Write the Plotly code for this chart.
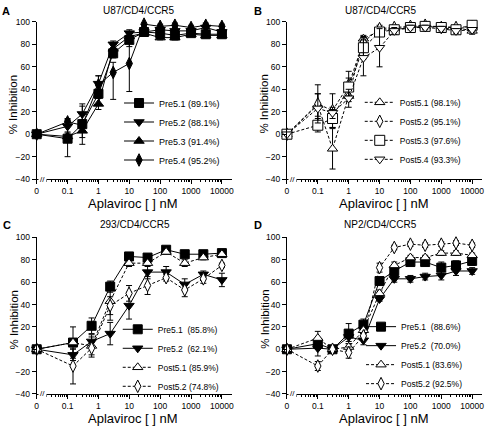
import plotly.graph_objects as go

W, H = 489, 428

# ---------------- data ----------------
DOSE_HALF_LOG = [0, 0.1, 0.3, 1, 3, 10, 30, 100, 300, 1000, 3000, 10000]
DOSE_FOURFOLD = [0, 0.15, 0.6, 2.4, 9.8, 39, 156, 625, 2500, 10000]
ZERO_POS = 0.01  # where the "0" dose is drawn on the broken log axis

# Panel A  (U87/CD4/CCR5, pre-treatment isolates)
a_pre51 = [0, -4, 9, 36, 72, 84, 91, 90, 88, 90, 89, 89]
a_pre51_err = [0, 16, 18, 4, 4, 6, 2, 2, 2, 2, 2, 2]
a_pre52 = [0, 7, 18, 45, 80, 90, 91, 93, 92, 92, 95, 91]
a_pre52_err = [0, 6, 7, 7, 3, 3, 2, 2, 2, 2, 3, 2]
a_pre53 = [0, -2, 3, 27, 76, 87, 90, 86, 86, 89, 88, 88]
a_pre53_err = [0, 4, 6, 5, 4, 3, 2, 2, 2, 2, 2, 2]
a_pre54 = [0, 11, 8, 44, 55, 63, 98, 96, 97, 95, 97, 96]
a_pre54_err_up = [0, 3, 5, 8, 9, 25, 2, 2, 2, 2, 2, 2]
a_pre54_err_dn = [0, 3, 5, 8, 24, 25, 2, 2, 2, 2, 2, 2]

# Panel B  (U87/CD4/CCR5, post-treatment isolates)
b_post51 = [0, 26, -13, 34, 85, 92, 94, 95, 96, 96, 95, 92]
b_post51_err = [0, 10, 18, 5, 3, 3, 2, 2, 2, 2, 2, 3]
b_post52 = [0, 27, 21, 44, 82, 94, 95, 96, 97, 95, 95, 96]
b_post52_err = [0, 17, 15, 12, 4, 3, 2, 2, 2, 2, 2, 3]
b_post53 = [0, 8, 14, 42, 77, 91, 93, 95, 96, 95, 93, 97]
b_post53_err = [0, 6, 8, 8, 10, 3, 2, 2, 2, 2, 2, 2]
b_post54 = [0, 23, 19, 32, 68, 77, 92, 95, 95, 94, 92, 93]
b_post54_err = [0, 13, 5, 8, 16, 17, 3, 2, 2, 2, 2, 2]

# Panel C  (293/CD4/CCR5)
c_pre51 = [0, 6, 21, 56, 83, 82, 89, 85, 85, 86]
c_pre51_err = [0, 3, 7, 5, 3, 2, 2, 2, 2, 2]
c_pre52 = [0, -5, 7, 14, 39, 69, 69, 58, 67, 62]
c_pre52_err = [0, 5, 4, 10, 12, 6, 5, 5, 3, 6]
c_post51 = [0, 6, 3, 43, 77, 77, 87, 77, 82, 85]
c_post51_err = [0, 14, 10, 17, 3, 3, 2, 3, 2, 2]
c_post52 = [0, -15, 1, 39, 50, 57, 64, 53, 63, 75]
c_post52_err = [0, 16, 6, 8, 7, 8, 3, 6, 4, 2]

# Panel D  (NP2/CD4/CCR5)
d_pre51 = [0, 5, 0, 14, 22, 61, 70, 78, 78, 73, 75, 79]
d_pre51_err = [0, 5, 2, 9, 5, 2, 5, 3, 3, 5, 4, 4]
d_pre52 = [0, 1, 0, 11, 8, 45, 63, 63, 65, 66, 70, 70]
d_pre52_err = [0, 7, 2, 4, 4, 2, 3, 3, 3, 4, 4, 3]
d_post51 = [0, 10, 0, 2, 17, 50, 75, 82, 82, 86, 86, 84]
d_post51_err = [0, 6, 2, 3, 3, 3, 3, 2, 2, 2, 2, 2]
d_post52 = [0, -15, 0, -3, 12, 73, 91, 94, 93, 94, 95, 93]
d_post52_err = [0, 4, 2, 5, 3, 4, 2, 2, 2, 2, 2, 2]

panel_titles = ["U87/CD4/CCR5", "U87/CD4/CCR5", "293/CD4/CCR5", "NP2/CD4/CCR5"]
panel_letters = ["A", "B", "C", "D"]
x_tick_vals = [0.01, 0.1, 1, 10, 100, 1000, 10000]
x_tick_text = ["0", "0.1", "1", "10", "100", "1000", "10000"]
y_tick_vals = [-40, -20, 0, 20, 40, 60, 80, 100]
NB = "\u00a0"

FONT = "Liberation Sans, Arial, Helvetica, sans-serif"


def xpos(doses):
    return [d if d > 0 else ZERO_POS for d in doses]


STYLE = {
    "pre51": dict(symbol="square", size=9, fill="black", dash="solid"),
    "pre52": dict(symbol="triangle-down", size=9, fill="black", dash="solid"),
    "pre53": dict(symbol="triangle-up", size=9, fill="black", dash="solid"),
    "pre54": dict(symbol="diamond-tall", size=9, fill="black", dash="solid"),
    "post51": dict(symbol="triangle-up", size=9, fill="white", dash="3px,2px"),
    "post52": dict(symbol="diamond-tall", size=9, fill="white", dash="3px,2px"),
    "post53": dict(symbol="square", size=10, fill="white", dash="3px,2px"),
    "post54": dict(symbol="triangle-down", size=9, fill="white", dash="3px,2px"),
}

fig = go.Figure()


def add(panel, key, name, doses, y, err, err_dn=None):
    st = STYLE[key]
    ax = "" if panel == 1 else str(panel)
    ey = dict(type="data", array=err, color="black", thickness=1, width=3, visible=True)
    if err_dn is not None:
        ey["symmetric"] = False
        ey["arrayminus"] = err_dn
    fig.add_trace(go.Scatter(
        x=xpos(doses), y=y, name=name, mode="lines+markers",
        xaxis="x" + ax, yaxis="y" + ax,
        legend="legend" + ax,
        line=dict(color="black", width=1, dash=st["dash"]),
        marker=dict(symbol=st["symbol"], size=st["size"], color=st["fill"],
                    line=dict(color="black", width=1)),
        error_y=ey, cliponaxis=False,
    ))


add(1, "pre51", "Pre5.1 (89.1%)", DOSE_HALF_LOG, a_pre51, a_pre51_err)
add(1, "pre52", "Pre5.2 (88.1%)", DOSE_HALF_LOG, a_pre52, a_pre52_err)
add(1, "pre53", "Pre5.3 (91.4%)", DOSE_HALF_LOG, a_pre53, a_pre53_err)
add(1, "pre54", "Pre5.4 (95.2%)", DOSE_HALF_LOG, a_pre54, a_pre54_err_up, a_pre54_err_dn)

add(2, "post51", "Post5.1 (98.1%)", DOSE_HALF_LOG, b_post51, b_post51_err)
add(2, "post52", "Post5.2 (95.1%)", DOSE_HALF_LOG, b_post52, b_post52_err)
add(2, "post53", "Post5.3 (97.6%)", DOSE_HALF_LOG, b_post53, b_post53_err)
add(2, "post54", "Post5.4 (93.3%)", DOSE_HALF_LOG, b_post54, b_post54_err)

add(3, "pre51", "Pre5.1" + NB * 2 + "(85.8%)", DOSE_FOURFOLD, c_pre51, c_pre51_err)
add(3, "pre52", "Pre5.2" + NB * 2 + "(62.1%)", DOSE_FOURFOLD, c_pre52, c_pre52_err)
add(3, "post51", "Post5.1 (85.9%)", DOSE_FOURFOLD, c_post51, c_post51_err)
add(3, "post52", "Post5.2 (74.8%)", DOSE_FOURFOLD, c_post52, c_post52_err)

add(4, "pre51", "Pre5.1" + NB * 2 + "(88.6%)", DOSE_HALF_LOG, d_pre51, d_pre51_err)
add(4, "pre52", "Pre5.2" + NB * 2 + "(70.0%)", DOSE_HALF_LOG, d_pre52, d_pre52_err)
add(4, "post51", "Post5.1 (83.6%)", DOSE_HALF_LOG, d_post51, d_post51_err)
add(4, "post52", "Post5.2 (92.5%)", DOSE_HALF_LOG, d_post52, d_post52_err)


def px(x):
    return x / W


def py(y):
    return 1 - y / H


# plot-area boxes in pixels: (left, right, top, bottom)
boxes = [(35, 232, 17.3, 178.3), (287.3, 484.3, 17.3, 178.3),
         (35, 232, 238, 398.3), (287.3, 484.3, 238, 398.3)]

minor_vals = [m * 10 ** k for k in range(-2, 4) for m in range(2, 10)]

layout = dict(
    width=W, height=H, margin=dict(l=0, r=0, t=0, b=0),
    plot_bgcolor="white", paper_bgcolor="white",
    font=dict(family=FONT, color="black", size=9),
    showlegend=True,
)
for i, (l, r, t, b) in enumerate(boxes):
    ax = "" if i == 0 else str(i + 1)
    layout["xaxis" + ax] = dict(
        type="log", range=[-2, 4.33], domain=[px(l), px(r)],
        anchor="y" + ax, tickvals=x_tick_vals, ticktext=x_tick_text,
        ticks="outside", ticklen=4, tickwidth=1, tickcolor="black",
        showline=True, linecolor="black", linewidth=1, showgrid=False, zeroline=False,
        tickfont=dict(size=8.5),
        minor=dict(tickmode="array", tickvals=minor_vals, ticks="outside",
                   ticklen=2, tickcolor="black", showgrid=False),
    )
    layout["yaxis" + ax] = dict(
        range=[-40, 100], domain=[py(b), py(t)], anchor="x" + ax,
        tickvals=y_tick_vals, ticks="outside", ticklen=4, tickwidth=1, tickcolor="black",
        showline=True, linecolor="black", linewidth=1, showgrid=False, zeroline=False,
        tickfont=dict(size=8.5),
    )

legend_pos = [(118, 85.5), (360.7, 84.8), (116.7, 317.2), (362, 314.5)]
for i, (lx, ly) in enumerate(legend_pos):
    key = "legend" if i == 0 else "legend" + str(i + 1)
    layout[key] = dict(x=px(lx), y=py(ly), xanchor="left", yanchor="top",
                       bgcolor="rgba(0,0,0,0)", borderwidth=0,
                       font=dict(size=8.5 if i else 9, family=FONT), tracegroupgap=0)

annotations = []
title_pos = [(138, 6), (382, 6), (134, 225), (382, 225)]
letter_pos = [(4, 6), (258, 6), (5, 225), (258, 225)]
for i in range(4):
    l, r, t, b = boxes[i]
    annotations.append(dict(text=panel_titles[i], x=px(title_pos[i][0]), y=py(title_pos[i][1]),
                            xref="paper", yref="paper", showarrow=False,
                            font=dict(size=10), xanchor="center", yanchor="middle"))
    annotations.append(dict(text="<b>" + panel_letters[i] + "</b>", x=px(letter_pos[i][0]),
                            y=py(letter_pos[i][1]), xref="paper", yref="paper", showarrow=False,
                            font=dict(size=11), xanchor="center", yanchor="middle"))
    annotations.append(dict(text="Aplaviroc [ ] nM", x=px((l + r) / 2 - 1), y=py(b + 25),
                            xref="paper", yref="paper", showarrow=False,
                            font=dict(size=13), xanchor="center", yanchor="middle"))
    annotations.append(dict(text="% Inhibition", x=px(l - 23), y=py((t + b) / 2 + 4),
                            xref="paper", yref="paper", showarrow=False, textangle=-90,
                            font=dict(size=11.5), xanchor="center", yanchor="middle"))
    ax = "" if i == 0 else str(i + 1)
    annotations.append(dict(text="//", x=0.03, y=0, xref="x" + ax + " domain",
                            yref="y" + ax + " domain", showarrow=False,
                            font=dict(size=8), xanchor="center", yanchor="middle",
                            bgcolor="white"))
layout["annotations"] = annotations

fig.update_layout(**layout)
fig.write_html("out.html", config={"displayModeBar": False},
               post_script="document.body.style.margin='0';document.body.style.overflow='hidden';")
